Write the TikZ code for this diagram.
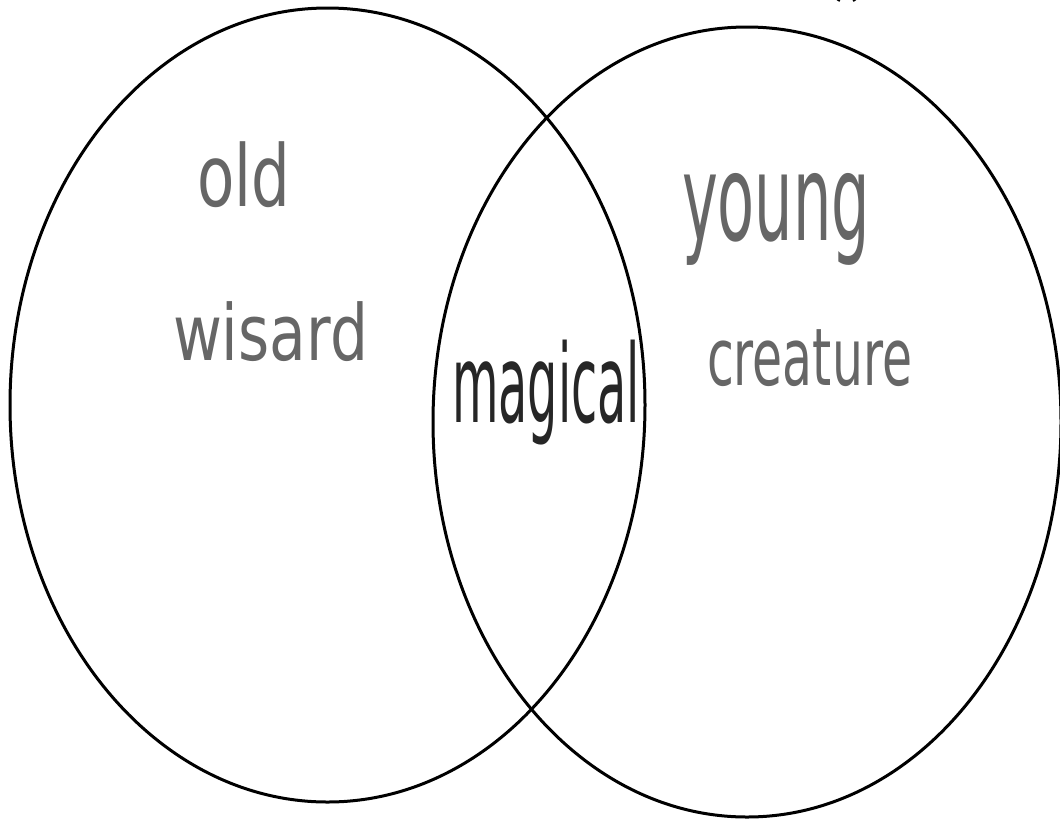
\documentclass[tikz,border=0pt]{standalone}
\usepackage{fontspec}
\setmainfont{DejaVu Sans}
\usepackage{graphicx}
\usetikzlibrary{shapes.geometric}
\tikzset{
  venn/.style={draw=black, line width=3pt},
  hand/.style={inner sep=0pt, outer sep=0pt, anchor=north west, text=black!60},
  handdark/.style={inner sep=0pt, outer sep=0pt, anchor=north west, text=black!85},
}
\begin{document}
\begin{tikzpicture}[x=1pt,y=-1pt]
\useasboundingbox (0,0) rectangle (1060,820);
\fill[white] (0,0) rectangle (1060,820);
% circles
\node[venn, ellipse, minimum width=635pt, minimum height=794pt, inner sep=0pt] (left) at (327.5,405) {};
\node[venn, ellipse, minimum width=628pt, minimum height=790pt, inner sep=0pt] (right) at (747,422) {};
% fragment at top
\draw[line width=3pt] (838,1) arc[start angle=200, end angle=340, radius=9];
% labels
\node[hand] (old) at (197,142) {\resizebox*{93pt}{66pt}{old}};
\node[hand] (wisard) at (173,302) {\resizebox*{195pt}{60pt}{wisard}};
\node[handdark] (magical) at (452,340) {\resizebox*{188pt}{105pt}{magical}};
\node[hand] (young) at (682,173) {\resizebox*{188pt}{92pt}{young}};
\node[hand] (creature) at (707,330) {\resizebox*{205pt}{57pt}{creature}};
\end{tikzpicture}
\end{document}
